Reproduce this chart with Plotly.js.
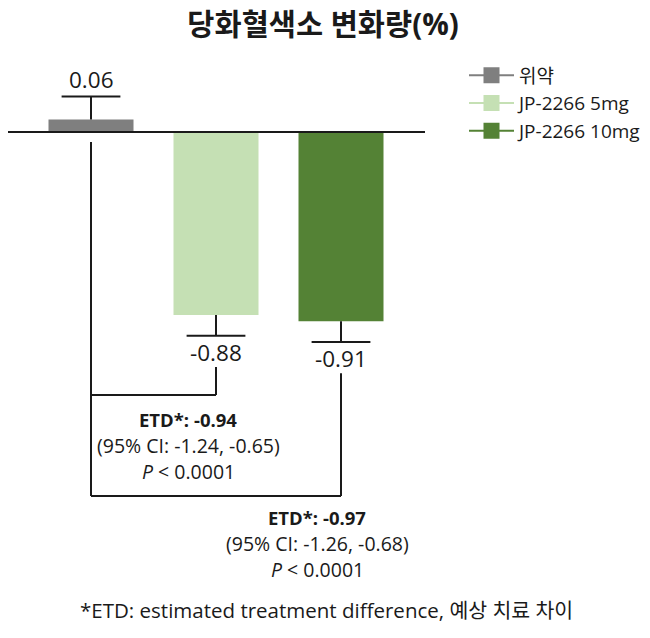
<!DOCTYPE html>
<html>
<head>
<meta charset="utf-8">
<script src="https://cdn.plot.ly/plotly-3.0.1.min.js"></script>
<style>
  html, body { margin: 0; padding: 0; background: #fff; }
  #chart_div { width: 650px; height: 638px; }
</style>
</head>
<body>
<div id="chart_div"></div>
<script>
// chart values
var groups = ['위약', 'JP-2266 5mg', 'JP-2266 10mg'];
var changes = [0.06, -0.88, -0.91];
var err_up = [0.11, 0, 0];
var err_down = [0, 0.10, 0.10];
var value_labels = ['0.06', '-0.88', '-0.91'];
var bar_colors = ['#7f7f7f', '#c5e0b4', '#548235'];

// comparisons vs placebo
var etd_values = ['-0.94', '-0.97'];
var etd_ci = [['-1.24', '-0.65'], ['-1.26', '-0.68']];
var etd_p = ['< 0.0001', '< 0.0001'];

var FONT = '"Open Sans", "Noto Sans CJK KR", sans-serif';
var INK = '#1a1a1a';

var xpos = [0, 1, 2];

//y of the error bar end, where the cap and the label sit
function capY(i) {
	return changes[i] >= 0 ? changes[i] + err_up[i] : changes[i] - err_down[i];
}

function buildTraces() {
	var data = [];
	var caps = [];
	for (var i = 0; i < changes.length; i++) caps.push(capY(i));

	//bars with the error stem only (caps are drawn separately, one-sided)
	data.push({
		type: 'bar',
		x: xpos,
		y: changes,
		width: 0.68,
		marker: {color: bar_colors},
		error_y: {
			type: 'data',
			symmetric: false,
			array: err_up,
			arrayminus: err_down,
			color: INK,
			thickness: 2,
			width: 0
		},
		showlegend: false,
		hoverinfo: 'skip'
	});

	//caps at the outer end of each error bar
	data.push({
		type: 'scatter',
		mode: 'markers',
		x: xpos,
		y: caps,
		marker: {symbol: 'line-ew', size: 42, line: {color: INK, width: 2}},
		showlegend: false,
		hoverinfo: 'skip'
	});

	//legend entries: line with a square
	for (var j = 0; j < groups.length; j++) {
		data.push({
			type: 'scatter',
			mode: 'lines+markers',
			x: [null],
			y: [null],
			name: groups[j],
			legendgroup: 'g' + j,
			line: {color: bar_colors[j], width: 2},
			marker: {symbol: 'square', size: 18, color: bar_colors[j]},
			hoverinfo: 'skip'
		});
	}
	return data;
}

function buildAnnotations() {
	var ann = [];

	//value labels next to the error caps
	for (var i = 0; i < changes.length; i++) {
		var up = changes[i] >= 0;
		ann.push({
			x: xpos[i],
			y: capY(i),
			xref: 'x', yref: 'y',
			text: value_labels[i],
			showarrow: false,
			yanchor: up ? 'bottom' : 'top',
			yshift: up ? 0 : 1,
			font: {family: FONT, size: 22.5, color: INK}
		});
	}

	//ETD blocks under the brackets
	var block_x = [0.776, 1.808];
	var block_y = [-1.38, -1.851];
	var line_step = 0.126;
	for (var k = 0; k < etd_values.length; k++) {
		var lines = [
			'<b>ETD*: ' + etd_values[k] + '</b>',
			'(95% CI: ' + etd_ci[k][0] + ', ' + etd_ci[k][1] + ')',
			'<i>P</i> ' + etd_p[k]
		];
		for (var j = 0; j < lines.length; j++) {
			ann.push({
				x: block_x[k],
				y: block_y[k] - j * line_step,
				xref: 'x', yref: 'y',
				text: lines[j],
				showarrow: false,
				yanchor: 'middle',
				font: {family: FONT, size: j === 0 ? 18.5 : 19.5, color: INK}
			});
		}
	}
	return ann;
}

function buildShapes() {
	var ln = {color: INK, width: 2};
	var s = [];

	//baseline
	s.push({type: 'line', xref: 'paper', yref: 'y', x0: 0, x1: 1, y0: 0, y1: 0, line: ln, layer: 'above'});

	//brackets from placebo to each dose
	var drop_top = -0.048;
	var bracket_y = [-1.264, -1.75];
	var arm_top = [-1.13, -1.16];
	s.push({type: 'line', x0: xpos[0], x1: xpos[0], y0: drop_top, y1: bracket_y[1], line: ln});
	for (var k = 0; k < 2; k++) {
		s.push({type: 'line', x0: xpos[0], x1: xpos[k + 1], y0: bracket_y[k], y1: bracket_y[k], line: ln});
		s.push({type: 'line', x0: xpos[k + 1], x1: xpos[k + 1], y0: bracket_y[k], y1: arm_top[k], line: ln});
	}
	return s;
}

var plot_left = 8, plot_right = 425, plot_top = 40, plot_bottom = 630;
var annotations = buildAnnotations();

//footnote, placed by pixel position and turned into paper units
annotations.push({
	x: (326 - plot_left) / (plot_right - plot_left), xref: 'paper', xanchor: 'center',
	y: (plot_bottom - 610) / (plot_bottom - plot_top), yref: 'paper', yanchor: 'middle',
	text: '*ETD: estimated treatment difference, 예상 치료 차이',
	showarrow: false,
	font: {family: FONT, size: 20.5, color: INK}
});

var layout = {
	width: 650,
	height: 638,
	//legend sits outside the plot area, keep it from pushing the margins
	margin: {l: plot_left, r: 650 - plot_right, t: plot_top, b: 638 - plot_bottom, autoexpand: false},
	paper_bgcolor: '#ffffff',
	plot_bgcolor: '#ffffff',
	title: {
		text: '<b>당화혈색소 변화량(%)</b>',
		x: 0.497, xref: 'container', xanchor: 'center',
		y: 1 - 25 / 638, yref: 'container', yanchor: 'middle',
		font: {family: FONT, size: 29.5, color: INK}
	},
	xaxis: {range: [-0.664, 2.672], visible: false, fixedrange: true},
	yaxis: {range: [-2.394, 0.442], visible: false, fixedrange: true},
	showlegend: true,
	legend: {
		x: (464 - plot_left) / (plot_right - plot_left), xanchor: 'left',
		y: 0.972, yanchor: 'top',
		font: {family: FONT, size: 19, color: INK},
		itemwidth: 45,
		tracegroupgap: 0,
		bgcolor: 'rgba(0,0,0,0)'
	},
	annotations: annotations,
	shapes: buildShapes()
};

Plotly.newPlot('chart_div', buildTraces(), layout, {displayModeBar: false, staticPlot: true});
</script>
</body>
</html>
